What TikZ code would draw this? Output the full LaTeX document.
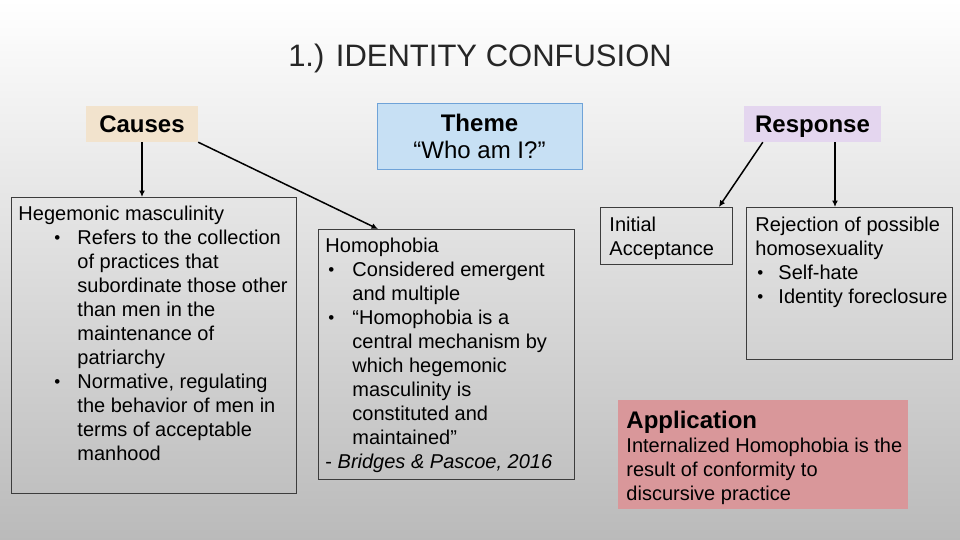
\documentclass[tikz,border=0pt]{standalone}
\usepackage{fontspec}
\setmainfont{Liberation Sans}
\usetikzlibrary{arrows.meta,positioning}

\definecolor{causesfill}{HTML}{F2E3CD}
\definecolor{themefill}{HTML}{C7E0F4}
\definecolor{themeline}{HTML}{6FA3D8}
\definecolor{respfill}{HTML}{E4D6EF}
\definecolor{appfill}{HTML}{D9979A}
\definecolor{boxline}{HTML}{3C3C3C}

% width, height, left pad, first baseline, text
\newcommand{\boxtext}[5]{\parbox[t][#2][t]{#1}{\leftskip=#3\rightskip=0pt plus 1fil\parfillskip=0pt plus 1fil\noindent\rule{0pt}{#4}#5}}
% bullet offset, hang
\newcommand{\bitem}[2]{\par\hangindent=#2\hangafter=1\noindent\hspace*{#1}\makebox[\dimexpr#2-#1\relax][l]{\raisebox{1.2pt}{\scalebox{0.85}{\textbullet}}}}

\begin{document}
\begin{tikzpicture}[x=1pt,y=-1pt,>={Latex[length=6.5pt,width=6pt]},
  tag/.style={inner sep=0pt, text height=17pt, text depth=0pt, minimum height=36pt, font=\fontsize{24}{28}\selectfont\bfseries},
  card/.style={draw=boxline, line width=0.9pt, anchor=north west, inner sep=0pt, font=\fontsize{20}{24}\selectfont},
  link/.style={->, line width=1.5pt}]

    \shade[top color=white, middle color=black!8, bottom color=black!27] (0,0) rectangle (960,540);

    \node[anchor=base, font=\fontsize{31}{36}\selectfont, text=black!85] (title) at (480,67) {1.) IDENTITY CONFUSION};

    \node[tag, fill=causesfill, minimum width=112pt] (causes) at (142,124) {Causes};
    \node[draw=themeline, fill=themefill, line width=0.8pt, minimum width=205pt, minimum height=66pt, align=center, font=\fontsize{24}{27}\selectfont] (theme) at (479.5,136) {\textbf{Theme}\\“Who am I?”};
    \node[tag, fill=respfill, minimum width=137pt] (resp) at (812.5,124) {Response};

    \node[card] (heg) at (11,197) {\boxtext{285pt}{296pt}{7pt}{23pt}{Hegemonic masculinity
      \bitem{36pt}{59pt}Refers to the collection\newline of practices that\newline subordinate those other\newline than men in the\newline maintenance of\newline patriarchy
      \bitem{36pt}{59pt}Normative, regulating\newline the behavior of men in\newline terms of acceptable\newline manhood}};

    \node[card] (homo) at (318,229) {\boxtext{256pt}{250pt}{7pt}{23pt}{Homophobia
      \bitem{3pt}{27pt}Considered emergent\newline and multiple
      \bitem{3pt}{27pt}“Homophobia is a\newline central mechanism by\newline which hegemonic\newline masculinity is\newline constituted and\newline maintained”
      \par\noindent - \textit{Bridges \& Pascoe, 2016}}};

    \node[card] (init) at (600,207) {\boxtext{132pt}{57pt}{9pt}{24pt}{Initial\newline Acceptance}};

    \node[card] (rej) at (746,207) {\boxtext{206pt}{152pt}{9pt}{24pt}{Rejection of possible\newline homosexuality
      \bitem{2pt}{23pt}Self-hate
      \bitem{2pt}{23pt}Identity foreclosure}};

    \node[card, draw=none, fill=appfill] (app) at (618,400) {\boxtext{290pt}{109pt}{8pt}{28pt}{{\fontsize{24}{28}\selectfont\bfseries Application}\par
      \noindent Internalized Homophobia is the\newline result of conformity to\newline discursive practice}};

    \coordinate (rtop) at ([xshift=89pt]rej.north west);

    \draw[link] (causes.south) -- (causes.south |- heg.north);
    \draw[link] (causes.south east) -- ([xshift=60pt]homo.north west);
    \draw[link] ([xshift=19pt]resp.south west) -- ([xshift=-14pt]init.north east);
    \draw[link] (rtop |- resp.south) -- (rtop);
\end{tikzpicture}
\end{document}
